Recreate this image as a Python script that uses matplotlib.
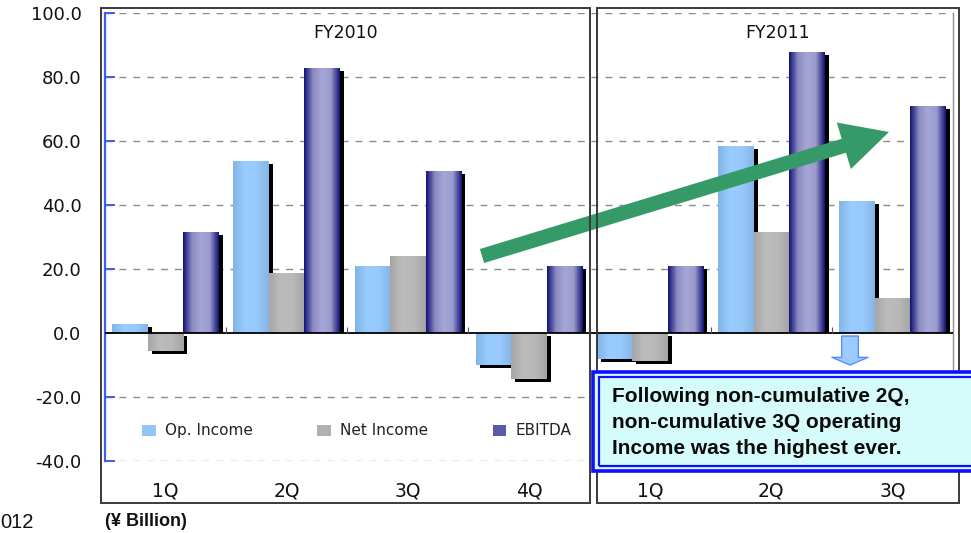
import numpy as np
import matplotlib
matplotlib.use('Agg')
import matplotlib.pyplot as plt
from matplotlib.patches import Rectangle, Patch, FancyArrowPatch
from matplotlib.colors import LinearSegmentedColormap

# ---------------- data ----------------
categories = ['1Q', '2Q', '3Q', '4Q', '1Q', '2Q', '3Q']
fiscal_years = ['FY2010', 'FY2011']
fy_sizes = [4, 3]
op_income = [2.8, 53.8, 20.9, -10.0, -8.1, 58.4, 41.2]
net_income = [-5.6, 18.8, 24.1, -14.4, -8.8, 31.6, 10.9]
ebitda = [31.6, 82.8, 50.6, 20.9, 20.9, 87.8, 70.9]
series_names = ['Op. Income', 'Net Income', 'EBITDA']
yticks = [-40, -20, 0, 20, 40, 60, 80, 100]
note_lines = ['Following non-cumulative 2Q,',
              'non-cumulative 3Q operating',
              'Income was the highest ever.']
unit_label = '(¥ Billion)'
footer_left = '012'

# ---------------- styles ----------------
grad_stops = [
    ['#84b4e6', '#99ccff', '#97c9fc', '#86b6e6'],
    ['#a6a6a6', '#bcbcbc', '#b8b8b8', '#a4a4a4'],
    ['#141478', '#8c8cc4', '#a6a6d6', '#9a9acd', '#141478'],
]
legend_colors = ['#92c4f6', '#b2b2b2', '#5a5aa6']

W, H = 971, 533
fig = plt.figure(figsize=(W / 100, H / 100), dpi=100)
fig.patch.set_facecolor('white')

ax_l, ax_r, ax_t, ax_b = 105, 953, 13, 461
ax = fig.add_axes([ax_l / W, 1 - ax_b / H, (ax_r - ax_l) / W, (ax_b - ax_t) / H])

n = len(categories)
x = np.arange(n)
w = 0.293
offsets = [-w, 0.0, w]
px_x = (ax_r - ax_l) / n           # pixels per category
px_y = (ax_b - ax_t) / 140.0       # pixels per unit
dx = 4 / px_x
dy = 3 / px_y

for s, vals in enumerate([op_income, net_income, ebitda]):
    vals = np.array(vals)
    # shadows
    bottoms = np.where(vals > 0, 0.0, -dy)
    heights = np.where(vals > 0, vals - dy, vals)
    ax.bar(x + offsets[s] + dx, heights, bottom=bottoms, width=w,
           color='black', zorder=2, linewidth=0)
    bars = ax.bar(x + offsets[s], vals, width=w, color=legend_colors[s],
                  zorder=3, linewidth=0)
    cmap = LinearSegmentedColormap.from_list('g%d' % s, grad_stops[s])
    grad = np.linspace(0, 1, 64).reshape(1, -1)
    for b in bars:
        bx, by = b.get_x(), b.get_y()
        bw, bh = b.get_width(), b.get_height()
        y0, y1 = (by, by + bh) if bh >= 0 else (by + bh, by)
        im = ax.imshow(grad, cmap=cmap, extent=[bx, bx + bw, y0, y1],
                       aspect='auto', zorder=3.5, interpolation='bilinear')
        im.set_clip_path(b)

ax.set_xlim(-0.5, n - 0.5)
ax.set_ylim(-40, 100)
ax.set_yticks(yticks)
ax.set_yticklabels(['%.1f' % t for t in yticks])
ax.set_xticks(x)
ax.set_xticklabels(categories)

for sp in ['top', 'bottom']:
    ax.spines[sp].set_visible(False)
ax.spines['right'].set_color('#909090')
ax.spines['right'].set_linewidth(1.0)
ax.spines['left'].set_color('#3a5ef0')
ax.spines['left'].set_linewidth(1.6)

ax.tick_params(axis='y', direction='in', length=7, width=1.4, color='#3a5ef0',
               labelsize=13, pad=17, labelcolor='#111111')
ax.tick_params(axis='x', length=0, labelsize=13.5, pad=15, labelcolor='#111111')

for t in yticks:
    if t != 0:
        ax.axhline(t, color='#8c8c8c', lw=1.0, ls=(0, (5, 5)), zorder=0.5)
ax.axhline(0, color='black', lw=1.3, zorder=4)
# small separator ticks on the zero line
ax.vlines(x[:-1] + 0.5, 0, 1.8, color='#555555', lw=0.8, zorder=4)

# legend
handles = [Patch(facecolor=c, edgecolor='none') for c in legend_colors]
leg = ax.legend(handles, series_names, ncol=3, frameon=False,
                loc='center left', bbox_to_anchor=(0.028, 0.067),
                fontsize=11, handlelength=0.9, handleheight=0.75,
                handletextpad=0.6, columnspacing=4.2)
for t in leg.get_texts():
    t.set_color('#222222')

# fiscal year boxes and titles
box_edges = [(101, 590), (597, 959)]
for (x0, x1), label in zip(box_edges, fiscal_years):
    fig.add_artist(Rectangle((x0 / W, 1 - 503 / H), (x1 - x0) / W, (503 - 8) / H,
                             transform=fig.transFigure, fill=False,
                             edgecolor='#3a3a3a', lw=1.4, zorder=6))
    fig.text((x0 + x1) / 2 / W, 1 - 33 / H, label, ha='center', va='center',
             fontsize=12.5, color='#111111', zorder=7)

# green trend arrow
def px2data(px, py):
    return ((px - ax_l) / px_x - 0.5, (ax_b - py) / px_y - 40)

green = FancyArrowPatch(px2data(482, 256), px2data(889, 132),
                        arrowstyle='simple,head_width=35,head_length=34,tail_width=10.5',
                        mutation_scale=1, shrinkA=0, shrinkB=0,
                        color='#359a68', zorder=8, linewidth=0)
ax.add_patch(green)

# small down arrow
down = FancyArrowPatch(px2data(850, 336), px2data(850, 365),
                       arrowstyle='simple,head_width=26,head_length=5.5,tail_width=12',
                       mutation_scale=1, shrinkA=0, shrinkB=0,
                       facecolor='#9cccff', edgecolor='#5a8cff', lw=1.0, zorder=8)
ax.add_patch(down)

# annotation box
fig.add_artist(Rectangle((593 / W, 1 - 471 / H), (990 - 593) / W, (471 - 372) / H,
                         transform=fig.transFigure, facecolor='#d6fbfb',
                         edgecolor='#1010ff', lw=2.6, zorder=9))
fig.add_artist(Rectangle((598.5 / W, 1 - 466 / H), (990 - 598.5) / W, (466 - 377) / H,
                         transform=fig.transFigure, fill=False,
                         edgecolor='#1010ff', lw=1.6, zorder=9))
for k, line in enumerate(note_lines):
    fig.text(612 / W, 1 - (397 + 25.5 * k) / H, line, ha='left', va='center',
             fontsize=15, fontweight='bold', family='Liberation Sans',
             color='#0a0a0a', zorder=10)

# footer texts
fig.text(0 / W, 1 - 522 / H, footer_left, ha='left', va='center',
         fontsize=14.5, family='Liberation Sans', color='#111111')
fig.text(105 / W, 1 - 521 / H, unit_label, ha='left', va='center',
         fontsize=13, fontweight='bold', family='Liberation Sans', color='#111111')

fig.savefig('out.png', dpi=100)
